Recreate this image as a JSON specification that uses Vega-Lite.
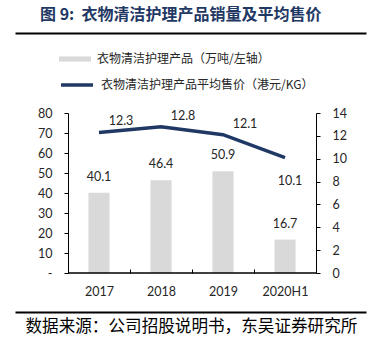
{
  "$schema": "https://vega.github.io/schema/vega-lite/v6.json",
  "autosize": {"type": "none"},
  "width": 351,
  "height": 160,
  "padding": {"left": 15, "top": 113, "right": 5, "bottom": 70},
  "background": "white",
  "title": {"text": "图 9:\u00a0\u00a0衣物清洁护理产品销量及平均售价", "anchor": "start", "frame": "group", "dx": 25, "offset": 10, "font": "Noto Sans CJK SC", "fontSize": 16, "fontWeight": "bold", "color": "#1F3864"},
  "data": {"values": [
    {"year": "2017", "volume": 40.1, "price": 12.3},
    {"year": "2018", "volume": 46.4, "price": 12.8},
    {"year": "2019", "volume": 50.9, "price": 12.1},
    {"year": "2020H1", "volume": 16.7, "price": 10.1}
  ]},
  "config": {"view": {"stroke": null}, "axis": {"grid": false}},
  "layer": [
    {
      "mark": {"type": "bar", "width": {"band": 0.34}},
      "encoding": {
        "x": {"field": "year", "type": "nominal", "sort": null,
          "scale": {"paddingInner": 0, "paddingOuter": 0.8306, "align": 0.5146},
          "axis": {"orient": "bottom", "domain": false, "ticks": true, "tickBand": "extent", "tickSize": -4, "tickColor": "#000", "labelPadding": 16, "labelAngle": 0, "labelFont": "Lato", "labelFontSize": 12.5, "labelColor": "#262626", "title": null}},
        "y": {"field": "volume", "type": "quantitative",
          "scale": {"domain": [0, 80], "nice": false},
          "axis": {"orient": "left", "offset": -53, "values": [0, 10, 20, 30, 40, 50, 60, 70, 80], "labelExpr": "datum.value == 0 ? '-' : datum.label", "tickSize": 4, "labelPadding": 12, "domainColor": "#000", "tickColor": "#000", "labelFont": "Lato", "labelFontSize": 12.5, "labelColor": "#262626", "title": null}},
        "fill": {"datum": "衣物清洁护理产品（万吨/左轴）", "type": "nominal",
          "scale": {"range": ["#D9D9D9"]},
          "legend": {"orient": "none", "legendX": 44, "legendY": -70, "title": null, "padding": 0, "symbolType": "M-1,-0.16H1V0.16H-1Z", "symbolSize": 1024, "symbolStrokeWidth": 0, "labelOffset": 6, "labelFont": "Noto Sans CJK SC", "labelFontSize": 12, "labelColor": "#262626", "labelLimit": 400}}
      }
    },
    {
      "mark": {"type": "rect", "fill": null, "stroke": "#000", "strokeWidth": 1},
      "encoding": {
        "x": {"field": "year", "type": "nominal", "sort": null,
          "axis": {"orient": "top", "offset": 80, "domain": true, "domainWidth": 2, "domainColor": "#000", "ticks": false, "labels": false, "title": null}},
        "y": {"datum": 0, "type": "quantitative", "scale": {"domain": [0, 80], "nice": false}, "axis": null},
        "y2": {"datum": 0}
      }
    },
    {
      "mark": {"type": "text", "dy": -16, "font": "Lato", "fontSize": 12.5, "color": "#262626"},
      "encoding": {
        "x": {"field": "year", "type": "nominal", "sort": null,
          "axis": {"orient": "bottom", "offset": 39, "domain": true, "domainWidth": 2, "domainColor": "#000", "ticks": false, "labels": false,
            "title": "数据来源：公司招股说明书，东吴证券研究所", "titleAnchor": "start", "titleAlign": "left", "titleBaseline": "top", "titlePadding": 6, "titleX": 10, "titleFont": "Noto Sans CJK SC", "titleFontSize": 16.6, "titleFontWeight": "normal", "titleColor": "#000"}},
        "y": {"field": "volume", "type": "quantitative", "scale": {"domain": [0, 80], "nice": false}, "axis": null},
        "text": {"field": "volume", "type": "quantitative", "format": ".1f"}
      }
    },
    {
      "mark": {"type": "line", "strokeWidth": 3.5},
      "encoding": {
        "x": {"field": "year", "type": "nominal", "sort": null, "axis": null},
        "y": {"field": "price", "type": "quantitative",
          "scale": {"domain": [0, 14], "nice": false},
          "axis": {"orient": "right", "offset": -50, "values": [0, 2, 4, 6, 8, 10, 12, 14], "tickSize": 4, "labelPadding": 12, "domainColor": "#000", "tickColor": "#000", "labelFont": "Lato", "labelFontSize": 12.5, "labelColor": "#262626", "title": null}},
        "stroke": {"datum": "衣物清洁护理产品平均售价（港元/KG）", "type": "nominal",
          "scale": {"range": ["#1F3864"]},
          "legend": {"orient": "none", "legendX": 44, "legendY": -46, "title": null, "padding": 0, "symbolType": "stroke", "symbolSize": 1024, "symbolStrokeWidth": 3.5, "labelOffset": 6, "labelFont": "Noto Sans CJK SC", "labelFontSize": 12, "labelColor": "#262626", "labelLimit": 400}}
      }
    },
    {
      "transform": [{"filter": "datum.year != '2020H1'"}],
      "mark": {"type": "text", "dx": 22, "dy": -11, "font": "Lato", "fontSize": 12.5, "color": "#262626"},
      "encoding": {
        "x": {"field": "year", "type": "nominal", "sort": null, "axis": null},
        "y": {"field": "price", "type": "quantitative", "scale": {"domain": [0, 14], "nice": false}, "axis": null},
        "text": {"field": "price", "type": "quantitative", "format": ".1f"}
      }
    },
    {
      "transform": [{"filter": "datum.year == '2020H1'"}],
      "mark": {"type": "text", "dx": 5, "dy": 23, "font": "Lato", "fontSize": 12.5, "color": "#262626"},
      "encoding": {
        "x": {"field": "year", "type": "nominal", "sort": null, "axis": null},
        "y": {"field": "price", "type": "quantitative", "scale": {"domain": [0, 14], "nice": false}, "axis": null},
        "text": {"field": "price", "type": "quantitative", "format": ".1f"}
      }
    }
  ],
  "resolve": {"scale": {"y": "independent"}, "axis": {"x": "independent", "y": "independent"}}
}
